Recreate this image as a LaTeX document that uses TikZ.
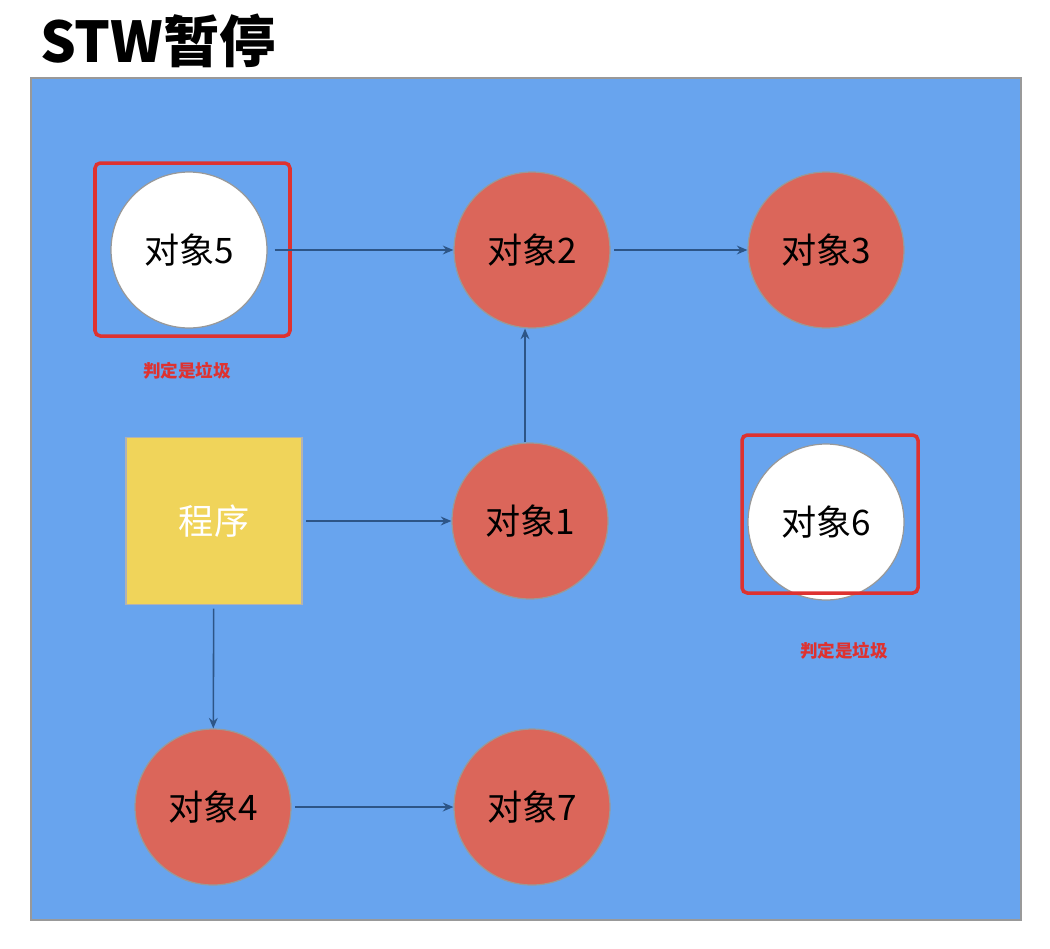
\documentclass[tikz,border=0pt]{standalone}
\usepackage{fontspec}
\usepackage{xcolor}
\usepackage{tikz}
\usetikzlibrary{arrows.meta, positioning}
\newfontfamily\cjk{Noto Sans CJK SC}

\definecolor{panelblue}{RGB}{104,164,238}
\definecolor{objred}{RGB}{219,102,90}
\definecolor{progyellow}{RGB}{240,212,90}
\definecolor{linkblue}{RGB}{45,85,135}
\definecolor{markred}{RGB}{222,50,48}

\begin{document}
\begin{tikzpicture}[x=0.02cm, y=-0.02cm, >=Stealth,
    obj/.style={circle, draw=gray!80, line width=0.7pt, fill=objred,
                minimum size=3.12cm, inner sep=0pt,
                font=\cjk\fontsize{20}{24}\selectfont},
    garbage/.style={obj, fill=white},
    link/.style={-{Stealth[length=6pt, width=5pt]}, draw=linkblue, line width=0.9pt},
    redframe/.style={draw=markred, line width=2pt, rounded corners=3pt}]
  \useasboundingbox (0,0) rectangle (1050,948);

  % Titre
  \node[anchor=west, font=\cjk\bfseries\fontsize{32}{36}\selectfont] (title) at (34, 41) {STW暂停};

  % Fond bleu
  \draw[gray!80, line width=1pt, fill=panelblue] (31, 78) rectangle (1021, 920);

  % Objets
  \node[garbage] (o5) at (189, 250) {对象5};
  \node[obj] (o2) at (532, 250) {对象2};
  \node[obj] (o3) at (826, 250) {对象3};
  \node[obj] (o1) at (530, 521) {对象1};
  \node[garbage] (o6) at (826, 522) {对象6};
  \node[obj] (o4) at (213, 807) {对象4};
  \node[obj] (o7) at (532, 807) {对象7};

  % Programme
  \node[draw=gray!60, line width=0.6pt, fill=progyellow, minimum width=3.52cm,
        minimum height=3.34cm, text=white, font=\cjk\fontsize{20}{24}\selectfont]
      (prog) at (214, 521) {程序};

  % Cadres rouges
  \draw[redframe] (95, 163) rectangle (290, 336);
  \draw[redframe] (742, 435) rectangle (918, 593);
  \node[text=markred, font=\cjk\bfseries\fontsize{10}{12}\selectfont] (lab5) at (187, 371) {判定是垃圾};
  \node[text=markred, font=\cjk\bfseries\fontsize{10}{12}\selectfont] (lab6) at (844, 651) {判定是垃圾};

  % Références
  \draw[link, shorten <=4pt] (o5) -- (o2);
  \draw[link, shorten <=2pt] (o2) -- (o3);
  \draw[link] ([xshift=-0.1cm]o1.north) -- ([xshift=-0.1cm]o1.north |- o2.south);
  \draw[link, shorten <=2pt] (prog) -- (o1);
  \draw[link, shorten <=2pt] (prog) -- (o4);
  \draw[link, shorten <=2pt] (o4) -- (o7);
\end{tikzpicture}
\end{document}
